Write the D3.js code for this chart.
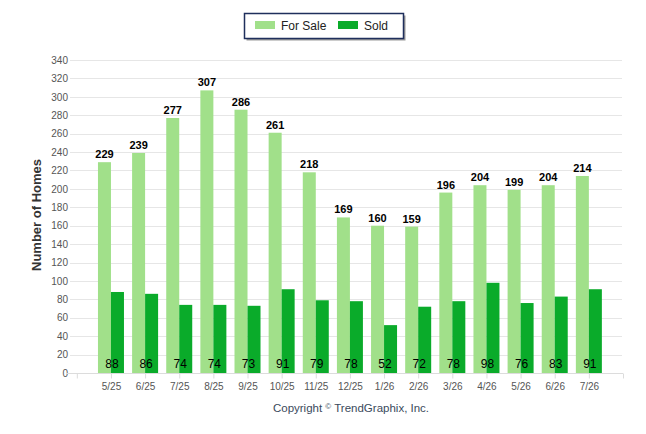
<!DOCTYPE html>
<html>
<head>
<meta charset="utf-8">
<script src="https://cdn.jsdelivr.net/npm/d3@7"></script>
<style>
  body { margin: 0; background: #fff; }
  svg text { font-family: "Liberation Sans", Arial, sans-serif; }
</style>
</head>
<body>
<div class="chart"></div>
<script>
/* chart data */
const months = ["5/25", "6/25", "7/25", "8/25", "9/25", "10/25", "11/25", "12/25",
  "1/26", "2/26", "3/26", "4/26", "5/26", "6/26", "7/26"];
const forSale = [229, 239, 277, 307, 286, 261, 218, 169, 160, 159, 196, 204, 199, 204, 214];
const sold = [88, 86, 74, 74, 73, 91, 79, 78, 52, 72, 78, 98, 76, 83, 91];
const yTicks = d3.range(0, 341, 20);

/* dimensions */
const width = 646, height = 434;
const plot = {left: 70, right: 623, top: 60, bottom: 373};
const barW = 13;

const svg = d3.select(".chart")
  .append("svg")
  .attr("width", width)
  .attr("height", height);

/* x scale on category index, axis has an empty slot on both ends */
const xScale = d3.scaleLinear()
  .domain([-1.2, 15])
  .range([plot.left, plot.right]);

const yScale = d3.scaleLinear()
  .domain([0, 340])
  .range([plot.bottom, plot.top]);

/* gridlines */
svg.append("g")
  .selectAll("line")
  .data(yTicks.filter(d => d > 0))
  .join("line")
  .attr("x1", plot.left)
  .attr("x2", plot.right - 1)
  .attr("y1", d => Math.round(yScale(d)) + 0.5)
  .attr("y2", d => Math.round(yScale(d)) + 0.5)
  .attr("stroke", "#e6e6e6");

/* y axis labels */
const yAxis = d3.axisLeft(yScale)
  .tickValues(yTicks)
  .tickSize(0)
  .tickPadding(2);

svg.append("g")
  .attr("transform", `translate(${plot.left}, 0)`)
  .call(yAxis)
  .call(g => g.select(".domain").remove())
  .call(g => g.selectAll("text")
    .attr("font-family", "Liberation Sans, Arial, sans-serif")
    .attr("font-size", 10)
    .attr("fill", "#555"));

/* y axis title */
svg.append("text")
  .attr("transform", "translate(41, 215) rotate(-90)")
  .attr("text-anchor", "middle")
  .attr("font-size", 13)
  .attr("font-weight", "bold")
  .attr("fill", "#333")
  .text("Number of Homes");

/* bars */
const groups = svg.append("g")
  .selectAll("g")
  .data(months)
  .join("g");

groups.append("rect")
  .attr("x", (d, i) => xScale(i) - barW)
  .attr("y", (d, i) => yScale(forSale[i]))
  .attr("width", barW)
  .attr("height", (d, i) => yScale(0) - yScale(forSale[i]))
  .attr("fill", "#a1e08a");

groups.append("rect")
  .attr("x", (d, i) => xScale(i))
  .attr("y", (d, i) => yScale(sold[i]))
  .attr("width", barW)
  .attr("height", (d, i) => yScale(0) - yScale(sold[i]))
  .attr("fill", "#0aab2a");

/* value labels */
groups.append("text")
  .attr("x", (d, i) => xScale(i) - barW / 2)
  .attr("y", (d, i) => yScale(forSale[i]) - 4)
  .attr("text-anchor", "middle")
  .attr("font-size", 11)
  .attr("font-weight", "bold")
  .attr("fill", "#000")
  .text((d, i) => forSale[i]);

groups.append("text")
  .attr("x", (d, i) => xScale(i) + 1)
  .attr("y", yScale(0) - 5)
  .attr("text-anchor", "middle")
  .attr("font-size", 12)
  .attr("fill", "#000")
  .text((d, i) => sold[i]);

/* x axis */
const xAxis = d3.axisBottom(xScale)
  .tickValues(d3.range(-1, 16))
  .tickSize(5)
  .tickPadding(4)
  .tickFormat(i => months[i] || "");

svg.append("g")
  .attr("transform", `translate(0, ${plot.bottom + 0.5})`)
  .call(xAxis)
  .call(g => g.select(".domain")
    .attr("d", `M${plot.left - 4},0H${plot.right}`)
    .attr("stroke", "#dcdcdc"))
  .call(g => g.selectAll(".tick line").attr("stroke", "#dcdcdc"))
  .call(g => g.selectAll("text")
    .attr("font-family", "Liberation Sans, Arial, sans-serif")
    .attr("font-size", 10)
    .attr("fill", "#555"));

/* legend */
const legend = svg.append("g");
legend.append("rect")
  .attr("x", 246.5).attr("y", 15.5)
  .attr("width", 159).attr("height", 25)
  .attr("fill", "#999");
legend.append("rect")
  .attr("x", 244.5).attr("y", 13.5)
  .attr("width", 159).attr("height", 25)
  .attr("fill", "#fff")
  .attr("stroke", "#1f2f5c")
  .attr("stroke-width", 1.5);

const legendItems = [
  {name: "For Sale", color: "#a1e08a", x: 255},
  {name: "Sold", color: "#0aab2a", x: 338}
];
legend.selectAll("g.item")
  .data(legendItems)
  .join("g")
  .attr("class", "item")
  .each(function(d) {
    const g = d3.select(this);
    g.append("rect")
      .attr("x", d.x).attr("y", 21)
      .attr("width", 20).attr("height", 8)
      .attr("fill", d.color);
    g.append("text")
      .attr("x", d.x + 26).attr("y", 30)
      .attr("font-size", 12)
      .attr("fill", "#222")
      .text(d.name);
  });

/* copyright */
const copy = svg.append("text")
  .attr("x", 351).attr("y", 412)
  .attr("text-anchor", "middle")
  .attr("font-size", 11.5)
  .attr("fill", "#3a4a5c");
copy.append("tspan").text("Copyright ");
copy.append("tspan").attr("font-size", 8).attr("dy", -3).text("©");
copy.append("tspan").attr("dy", 3).text(" TrendGraphix, Inc.");
</script>
</body>
</html>
